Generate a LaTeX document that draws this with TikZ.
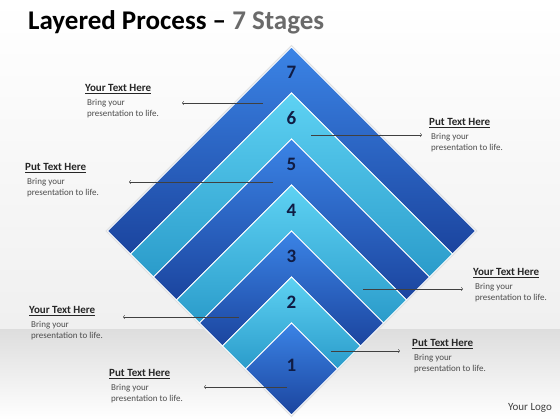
\documentclass[tikz,border=0pt]{standalone}
\usepackage{fontspec}
\setmainfont{Carlito}
\usetikzlibrary{positioning}

\definecolor{darkTop}{HTML}{3B84E6}
\definecolor{darkBot}{HTML}{1B449E}
\definecolor{lightTop}{HTML}{5ED2F3}
\definecolor{lightBot}{HTML}{2A9BCA}
\definecolor{stageNum}{HTML}{101C44}
\definecolor{titleGray}{HTML}{6A6A6A}

\tikzset{
  darkband/.style  = {top color=darkTop, bottom color=darkBot,
                      draw=white, line width=1pt},
  lightband/.style = {top color=lightTop, bottom color=lightBot,
                      draw=white, line width=1pt},
  stage/.style     = {font=\fontsize{19}{19}\selectfont\bfseries, text=stageNum},
  head/.style      = {anchor=west, inner sep=0pt,
                      font=\fontsize{11}{13}\selectfont\bfseries, text=black!85},
  blurb/.style     = {anchor=north west, align=left, inner sep=0pt,
                      font=\fontsize{9}{11}\selectfont, text=black!70},
  pointer/.style   = {draw=black!75, line width=0.5pt, -to}
}

\begin{document}
\begin{tikzpicture}[x=1pt, y=1pt]
  \useasboundingbox (0,0) rectangle (560,420);

  % background
  \shade[top color=white, bottom color=black!6] (0,90) rectangle (560,420);
  \shade[top color=black!13, bottom color=white] (0,0) rectangle (560,90);

  \node[anchor=west, inner sep=0pt, font=\fontsize{27}{29}\selectfont\bfseries]
    (title) at (28,398) {Layered Process -- \textcolor{titleGray}{7 Stages}};

  % the layered diamond
  \begin{scope}[shift={(291.5,5)}]
    \draw[black!12, line width=3pt] (0,368) -- (184,184) -- (0,0) -- (-184,184) -- cycle;
    \foreach \k/\sty in {7/darkband,6/lightband,5/darkband,4/lightband,3/darkband,2/lightband}{
      \pgfmathsetmacro{\ho}{(\k+1)*23}
      \pgfmathsetmacro{\hi}{\k*23}
      \draw[\sty] (0,2*\ho) -- (\ho,\ho) -- (\hi,\hi) -- (0,2*\hi)
        -- (-\hi,\hi) -- (-\ho,\ho) -- cycle;
      \node[stage] (n\k) at (0,2*\ho-25) {\k};
    }
    \draw[darkband] (0,92) -- (46,46) -- (0,0) -- (-46,46) -- cycle;
    \node[stage] (n1) at (0,50) {1};
  \end{scope}

  % text blocks
  \node[head] (h1) at (85,331) {\underline{Your Text Here}};
  \node[blurb, below right=5pt and 2pt of h1.south west, anchor=north west] (b1) {Bring your\\presentation to life.};
  \node[head] (h2) at (429,297) {\underline{Put Text Here}};
  \node[blurb, below right=5pt and 2pt of h2.south west, anchor=north west] (b2) {Bring your\\presentation to life.};
  \node[head] (h3) at (25,252) {\underline{Put Text Here}};
  \node[blurb, below right=5pt and 2pt of h3.south west, anchor=north west] (b3) {Bring your\\presentation to life.};
  \node[head] (h4) at (473,147) {\underline{Your Text Here}};
  \node[blurb, below right=5pt and 2pt of h4.south west, anchor=north west] (b4) {Bring your\\presentation to life.};
  \node[head] (h5) at (29,109) {\underline{Your Text Here}};
  \node[blurb, below right=5pt and 2pt of h5.south west, anchor=north west] (b5) {Bring your\\presentation to life.};
  \node[head] (h6) at (412,76) {\underline{Put Text Here}};
  \node[blurb, below right=5pt and 2pt of h6.south west, anchor=north west] (b6) {Bring your\\presentation to life.};
  \node[head] (h7) at (109,46) {\underline{Put Text Here}};
  \node[blurb, below right=5pt and 2pt of h7.south west, anchor=north west] (b7) {Bring your\\presentation to life.};

  \node[font=\fontsize{11}{11}\selectfont, text=black!75] (logo) at (530,12) {Your Logo};

  % pointers
  \coordinate (s1) at (263,317); \coordinate (t1) at (182,317);
  \coordinate (s2) at (311,285); \coordinate (t2) at (422,285);
  \coordinate (s3) at (273,238); \coordinate (t3) at (129,238);
  \coordinate (s4) at (363,131); \coordinate (t4) at (463,131);
  \coordinate (s5) at (239,103); \coordinate (t5) at (123,103);
  \coordinate (s6) at (331,69);  \coordinate (t6) at (400,69);
  \coordinate (s7) at (287,33);  \coordinate (t7) at (204,33);
  \foreach \i in {1,...,7}
    \draw[pointer] (s\i) -- (t\i);
\end{tikzpicture}
\end{document}
